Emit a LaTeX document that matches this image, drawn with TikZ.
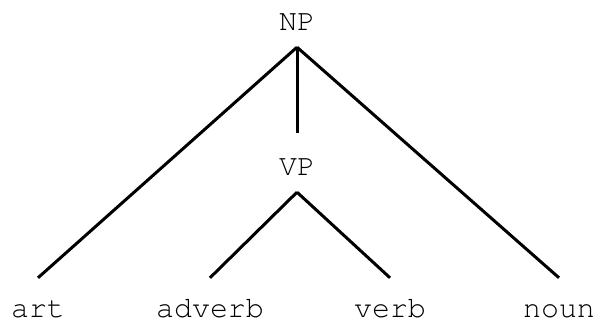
\documentclass[tikz,border=0pt]{standalone}
\usepackage[T1,TU]{fontenc}
\usepackage{tikz}
\usetikzlibrary{positioning}
\newcommand{\treefont}{\fontencoding{T1}\fontfamily{pcr}\fontseries{m}\fontshape{n}\fontsize{30}{36}\selectfont}
\tikzset{
    phrase/.style={font=\treefont, anchor=base, inner sep=1bp,
        text height=17bp, text depth=0pt},
    leaf/.style={font=\treefont, anchor=base, inner sep=1bp,
        text height=17bp, text depth=0pt},
    branch/.style={line width=3bp}
}

\begin{document}
\begin{tikzpicture}[x=1bp, y=1bp]
    \useasboundingbox (0,0) rectangle (601,322);

    \node[phrase] (np) at (297,292) {NP};
    \node[phrase] (vp) at (297,147) {VP};

    \node[leaf] (art) at (38,5) {art};
    \node[leaf] (adverb) at (210,5) {adverb};
    \node[leaf] (verb) at (390,5) {verb};
    \node[leaf] (noun) at (559,5) {noun};

    % branches leave a gap below the mother and above each daughter
    \draw[branch] ([yshift=-16bp]np.south) -- ([yshift=21bp]art.north);
    \draw[branch] ([yshift=-16bp]np.south) -- ([yshift=24bp]vp.north);
    \draw[branch] ([yshift=-16bp]np.south) -- ([yshift=21bp]noun.north);
    \draw[branch] ([yshift=-16bp]vp.south) -- ([yshift=21bp]adverb.north);
    \draw[branch] ([yshift=-16bp]vp.south) -- ([yshift=21bp]verb.north);

\end{tikzpicture}
\end{document}
